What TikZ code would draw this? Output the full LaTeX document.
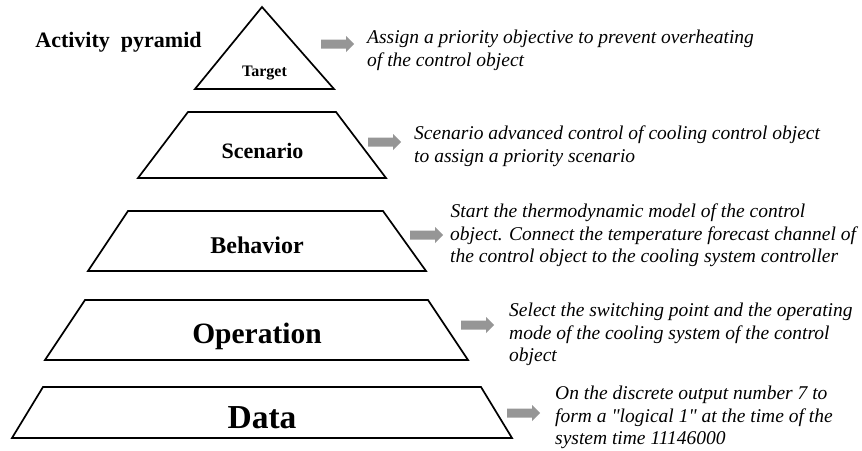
\documentclass[tikz,border=0pt]{standalone}
\usepackage{fontspec}
\setmainfont{Liberation Serif}[Ligatures=TeXOff]
\begin{document}
\begin{tikzpicture}[x=1pt,y=-1pt,
  layer/.style={draw=black,line width=1.7pt,line join=miter},
  title/.style={inner sep=0pt,anchor=base},
  note/.style={font=\itshape\fontsize{19.5}{22.5}\selectfont,align=left,anchor=north west,inner sep=0pt},
  pointer/.style={fill=arrowgray,draw=none}]
\definecolor{arrowgray}{RGB}{150,150,150}
\useasboundingbox (0,0) rectangle (862,450);

% pyramid layers
\draw[layer] (262,7) -- (334,89) -- (195,89) -- cycle;
\draw[layer] (188,112) -- (336,112) -- (386,178) -- (138,178) -- cycle;
\draw[layer] (128,211) -- (383,211) -- (426,271) -- (88,271) -- cycle;
\draw[layer] (85,300) -- (428,300) -- (468,360) -- (45,360) -- cycle;
\draw[layer] (43,387) -- (481,387) -- (512,438) -- (12,438) -- cycle;

% layer titles
\node[title,font=\bfseries\fontsize{22}{26}\selectfont] (heading) at (118.5,47) {Activity\ \ pyramid};
\node[title,font=\bfseries\fontsize{16}{19}\selectfont] (target) at (264.5,76) {Target};
\node[title,font=\bfseries\fontsize{22}{26}\selectfont] (scenario) at (262.5,158) {Scenario};
\node[title,font=\bfseries\fontsize{24}{28}\selectfont] (behavior) at (257,253) {Behavior};
\node[title,font=\bfseries\fontsize{29.5}{34}\selectfont] (operation) at (257,343) {Operation};
\node[title,font=\bfseries\fontsize{33.5}{38}\selectfont] (data) at (262,428) {Data};

% block pointers: shaft 25 long, head 8 long
\newcommand\blockpointer[2]{%
  \fill[pointer] (#1,#2) ++(0,-4.5) -- ++(25,0) -- ++(0,-3.5) -- ++(8,8) -- ++(-8,8)
    -- ++(0,-3.5) -- ++(-25,0) -- cycle;}
\blockpointer{321}{44}
\blockpointer{368}{142}
\blockpointer{410}{235}
\blockpointer{461}{325}
\blockpointer{507}{413}

% descriptions
\node[note] (d1) at (367,30) {Assign a priority objective to prevent overheating\\of the control object};
\node[note] (d2) at (414,126) {Scenario advanced control of cooling control object\\to assign a priority scenario};
\node[note] (d3) at (450,204) {\hspace{0.5pt}Start the thermodynamic model of the control\\object. Connect the temperature forecast channel of\\the control object to the cooling system controller};
\node[note] (d4) at (509,303) {Select the switching point and the operating\\mode of the cooling system of the control\\object};
\node[note] (d5) at (555,386) {On the discrete output number 7 to\\form a "logical 1" at the time of the\\system time 11146000};
\end{tikzpicture}
\end{document}
